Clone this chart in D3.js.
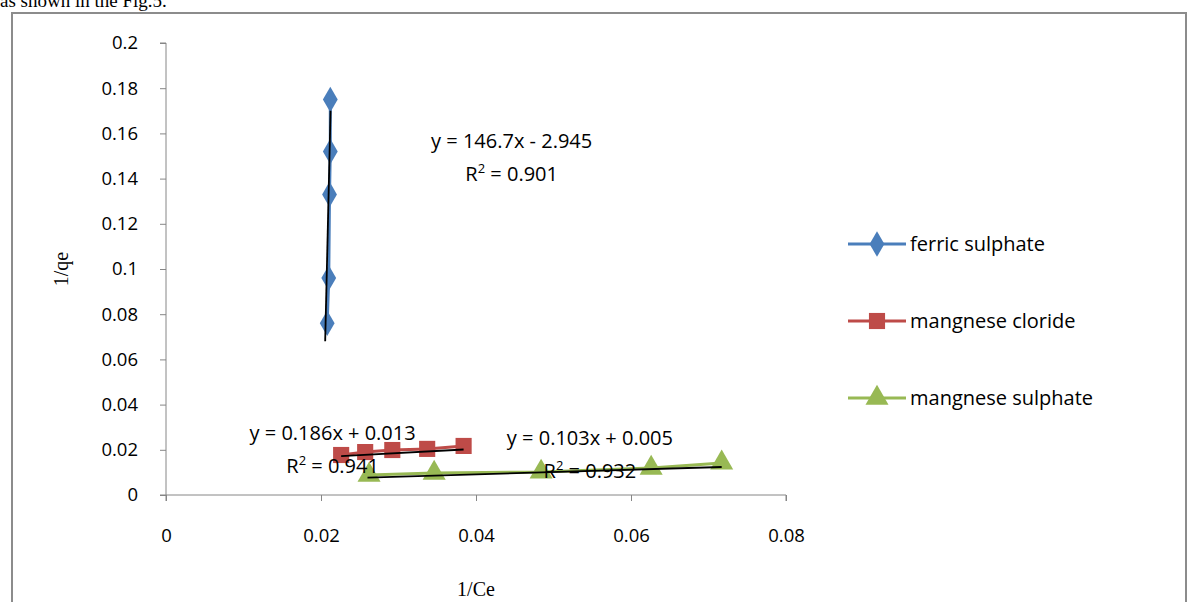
<!DOCTYPE html>
<html>
<head>
<meta charset="UTF-8">
<script src="https://d3js.org/d3.v7.min.js"></script>
<style>
  body { margin: 0; background: #fff; }
  text { font-family: 'Open Sans', 'Liberation Sans', sans-serif; }
  .serif { font-family: 'Liberation Serif', serif; }
</style>
</head>
<body>
<svg width="1189" height="602"></svg>
<script>
// data
const ferricX = [0.0212, 0.0212, 0.0211, 0.0210, 0.0208];
const ferricY = [0.175, 0.152, 0.133, 0.096, 0.076];
const chlorideX = [0.0226, 0.0257, 0.0292, 0.0337, 0.0384];
const chlorideY = [0.0177, 0.0190, 0.0199, 0.0204, 0.0217];
const sulphateX = [0.0262, 0.0346, 0.0484, 0.0626, 0.0717];
const sulphateY = [0.0088, 0.0097, 0.0102, 0.0119, 0.0142];
const xTicks = [0, 0.02, 0.04, 0.06, 0.08];
const yTicks = [0, 0.02, 0.04, 0.06, 0.08, 0.1, 0.12, 0.14, 0.16, 0.18, 0.2];

const series = [
  { name: "ferric sulphate", xs: ferricX, ys: ferricY, color: "#4a7ebb", shape: d3.symbolDiamond, size: 190,
    fit: [146.7, -2.945], fitRange: "y", range: [0.068, 0.170],
    eq: "y = 146.7x - 2.945", r2: "0.901", lab: [0.0446, 0.1535] },
  { name: "mangnese cloride", xs: chlorideX, ys: chlorideY, color: "#be4b48", shape: d3.symbolSquare, size: 260,
    fit: [0.186, 0.013], range: [0.0226, 0.0384],
    eq: "y = 0.186x + 0.013", r2: "0.941", lab: [0.0215, 0.0245] },
  { name: "mangnese sulphate", xs: sulphateX, ys: sulphateY, color: "#98b954", shape: d3.symbolTriangle, size: 230,
    fit: [0.103, 0.005], range: [0.026, 0.0717],
    eq: "y = 0.103x + 0.005", r2: "0.932", lab: [0.0547, 0.022] }
];

const svg = d3.select("svg");
svg.append("text").attr("class", "serif").attr("x", 0).attr("y", 7)
  .attr("font-size", 19).text("as shown in the Fig.5.");
svg.append("rect").attr("x", 12).attr("y", 13).attr("width", 1174).attr("height", 600)
  .attr("fill", "none").attr("stroke", "#8c8c8c").attr("stroke-width", 2);

const x = d3.scaleLinear().domain([0, 0.08]).range([166, 786]);
const y = d3.scaleLinear().domain([0, 0.2]).range([495, 43]);

const fmt = d => d === 0 ? "0" : String(+d.toFixed(2));
svg.append("g").attr("transform", "translate(0,495)")
  .call(d3.axisBottom(x).tickValues(xTicks).tickFormat(fmt).tickSize(6).tickPadding(28))
  .call(g => g.select(".domain").attr("d", "M166,6V0H786V6"));
svg.append("g").attr("transform", "translate(166,0)")
  .call(d3.axisLeft(y).tickValues(yTicks).tickFormat(fmt).tickSize(6).tickPadding(22))
  .call(g => g.select(".domain").attr("d", "M-6,43H0V495H-6"));
svg.selectAll(".tick text").attr("font-size", 18.5).attr("fill", "#000")
  .attr("font-family", "'Open Sans', sans-serif");
svg.selectAll(".domain, .tick line").attr("stroke", "#868686");

svg.append("text").attr("class", "serif").attr("x", 476).attr("y", 596)
  .attr("text-anchor", "middle").attr("font-size", 20).text("1/Ce");
svg.append("text").attr("class", "serif").attr("transform", "translate(68,269) rotate(-90)")
  .attr("text-anchor", "middle").attr("font-size", 20).text("1/qe");

series.forEach(s => {
  const pts = s.xs.map((v, i) => [v, s.ys[i]]);
  svg.append("path").attr("fill", "none").attr("stroke", s.color).attr("stroke-width", 3)
    .attr("d", d3.line().x(d => x(d[0])).y(d => y(d[1]))(pts));
  svg.selectAll(null).data(pts).enter().append("path")
    .attr("transform", d => `translate(${x(d[0])},${y(d[1])})`)
    .attr("d", d3.symbol().type(s.shape).size(s.size)).attr("fill", s.color);
});

series.forEach(s => {
  const [m, b] = s.fit;
  const ends = s.fitRange === "y"
    ? s.range.map(v => [(v - b) / m, v])
    : s.range.map(v => [v, m * v + b]);
  svg.append("line").attr("x1", x(ends[0][0])).attr("y1", y(ends[0][1]))
    .attr("x2", x(ends[1][0])).attr("y2", y(ends[1][1]))
    .attr("stroke", "#000").attr("stroke-width", 1.8);
  const cx = x(s.lab[0]), cy = y(s.lab[1]);
  svg.append("text").attr("x", cx).attr("y", cy).attr("text-anchor", "middle")
    .attr("font-size", 20).text(s.eq);
  const t = svg.append("text").attr("x", cx).attr("y", cy + 33).attr("text-anchor", "middle")
    .attr("font-size", 20);
  t.append("tspan").text("R");
  t.append("tspan").attr("font-size", 13).attr("dy", -8).text("2");
  t.append("tspan").attr("dy", 8).text(" = " + s.r2);
});

const leg = svg.append("g");
series.forEach((s, i) => {
  const ly = 244 + i * 77;
  leg.append("line").attr("x1", 848).attr("x2", 906).attr("y1", ly).attr("y2", ly)
    .attr("stroke", s.color).attr("stroke-width", 3);
  leg.append("path").attr("transform", `translate(877,${ly})`)
    .attr("d", d3.symbol().type(s.shape).size(s.size)).attr("fill", s.color);
  leg.append("text").attr("x", 910).attr("y", ly + 7).attr("font-size", 20).text(s.name);
});
</script>
</body>
</html>
